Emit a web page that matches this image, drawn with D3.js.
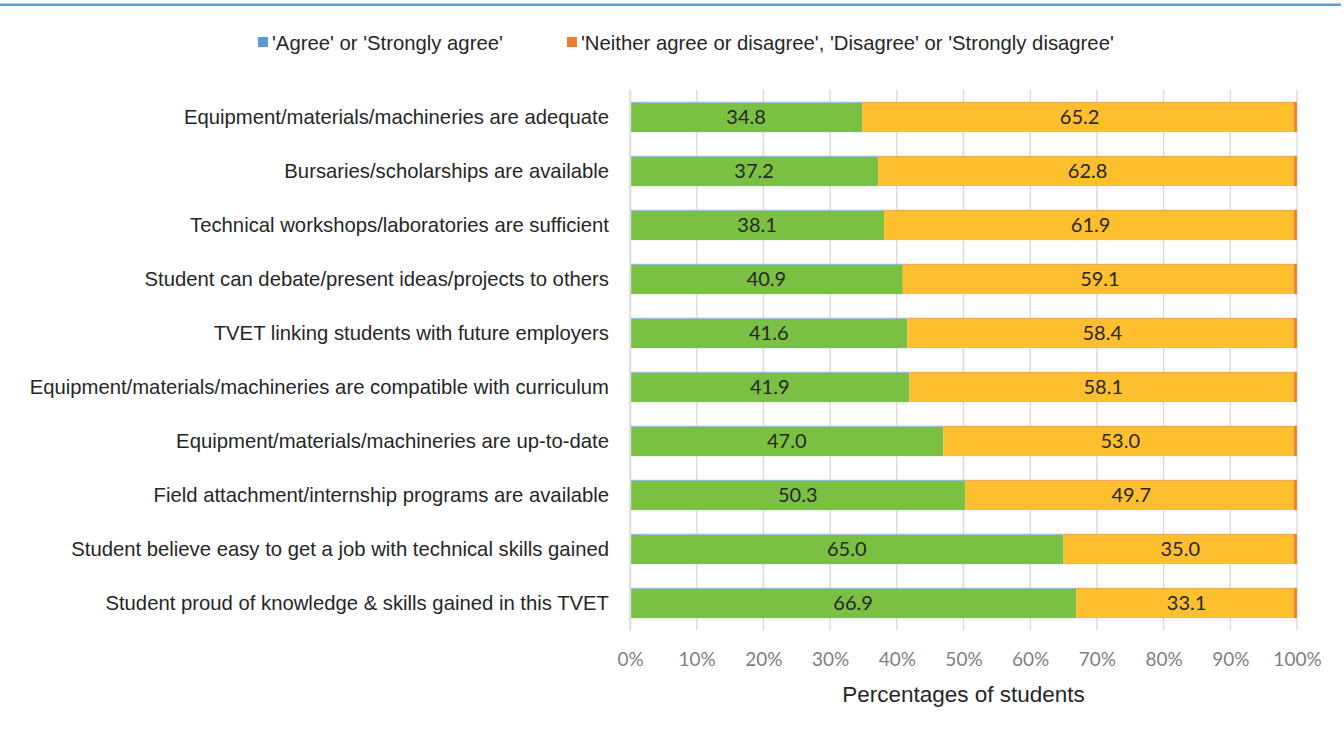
<!DOCTYPE html>
<html>
<head>
<meta charset="utf-8">
<script src="https://cdn.jsdelivr.net/npm/d3@7"></script>
<style>
  html, body { margin: 0; padding: 0; background: #fff; }
  svg { display: block; }
</style>
</head>
<body>
<svg id="chart" width="1344" height="735"></svg>
<script>
// Survey statements, top to bottom
const categories = [
  "Equipment/materials/machineries are adequate",
  "Bursaries/scholarships are available",
  "Technical workshops/laboratories are sufficient",
  "Student can debate/present ideas/projects to others",
  "TVET linking students with future employers",
  "Equipment/materials/machineries are compatible with curriculum",
  "Equipment/materials/machineries are up-to-date",
  "Field attachment/internship programs are available",
  "Student believe easy to get a job with technical skills gained",
  "Student proud of knowledge & skills gained in this TVET"
];
// Share of students (%) in each response group
const agreeValues = [34.8, 37.2, 38.1, 40.9, 41.6, 41.9, 47.0, 50.3, 65.0, 66.9];
const otherValues = [65.2, 62.8, 61.9, 59.1, 58.4, 58.1, 53.0, 49.7, 35.0, 33.1];
const seriesNames = ["'Agree' or 'Strongly agree'", "'Neither agree or disagree', 'Disagree' or 'Strongly disagree'"];
const tickValues = [0, 10, 20, 30, 40, 50, 60, 70, 80, 90, 100];

const svg = d3.select("#chart");
const plotLeft = 630, plotRight = 1297, plotTop = 90, plotBottom = 630;
const textFont = "'Liberation Sans', Arial, sans-serif";
const numFont = "Lato, 'Open Sans', sans-serif";

const x = d3.scaleLinear().domain([0, 100]).range([plotLeft, plotRight]);
const y = d3.scaleBand().domain(categories).range([plotTop, plotBottom]).paddingInner(0.44).paddingOuter(0.22);

// Title rule across the top
svg.append("rect").attr("x", 0).attr("y", 3.5).attr("width", 1341).attr("height", 2.5).attr("fill", "#5b9bd5");

// Vertical gridlines
svg.append("g").selectAll("line").data(tickValues).join("line")
  .attr("x1", d => x(d)).attr("x2", d => x(d))
  .attr("y1", plotTop).attr("y2", plotBottom)
  .attr("stroke", "#dcdcdc").attr("stroke-width", 1.5);

const rows = categories.map((c, i) => ({ c, a: agreeValues[i], o: otherValues[i] }));

const g = svg.append("g");
// Agree segment
g.selectAll("rect.agree").data(rows).join("rect").attr("class", "agree")
  .attr("x", x(0)).attr("y", d => y(d.c))
  .attr("width", d => x(d.a) - x(0)).attr("height", y.bandwidth())
  .attr("fill", "#7ac143");
g.selectAll("line.agreeEdge").data(rows).join("line").attr("class", "agreeEdge")
  .attr("x1", x(0)).attr("x2", d => x(d.a))
  .attr("y1", d => y(d.c) + 0.5).attr("y2", d => y(d.c) + 0.5)
  .attr("stroke", "#9cc3e4").attr("stroke-width", 1);
// Remaining segment
g.selectAll("rect.other").data(rows).join("rect").attr("class", "other")
  .attr("x", d => x(d.a)).attr("y", d => y(d.c))
  .attr("width", d => x(d.a + d.o) - x(d.a)).attr("height", y.bandwidth())
  .attr("fill", "#fdbf2d");
g.selectAll("line.otherEdge").data(rows).join("line").attr("class", "otherEdge")
  .attr("x1", d => x(d.a)).attr("x2", d => x(d.a + d.o))
  .attr("y1", d => y(d.c) + 0.5).attr("y2", d => y(d.c) + 0.5)
  .attr("stroke", "#f4a460").attr("stroke-width", 1);
g.selectAll("line.otherEnd").data(rows).join("line").attr("class", "otherEnd")
  .attr("x1", d => x(d.a + d.o) - 1.5).attr("x2", d => x(d.a + d.o) - 1.5)
  .attr("y1", d => y(d.c)).attr("y2", d => y(d.c) + y.bandwidth())
  .attr("stroke", "#ed7d31").attr("stroke-width", 2.5);

// Value labels
g.selectAll("text.va").data(rows).join("text")
  .attr("x", d => x(d.a / 2)).attr("y", d => y(d.c) + y.bandwidth() / 2 + 7)
  .attr("text-anchor", "middle").attr("font-family", numFont).attr("font-size", 20)
  .attr("fill", "#262626").text(d => d.a.toFixed(1));
g.selectAll("text.vo").data(rows).join("text")
  .attr("x", d => x(d.a + d.o / 2)).attr("y", d => y(d.c) + y.bandwidth() / 2 + 7)
  .attr("text-anchor", "middle").attr("font-family", numFont).attr("font-size", 20)
  .attr("fill", "#262626").text(d => d.o.toFixed(1));

// Category axis
const yAxis = svg.append("g").attr("transform", `translate(${plotLeft},0)`)
  .call(d3.axisLeft(y).tickSize(0).tickPadding(21));
yAxis.select(".domain").attr("stroke", "#dcdcdc").attr("stroke-width", 1.5);
yAxis.selectAll("text").attr("font-family", textFont)
  .attr("font-size", 20.3).attr("fill", "#262626").attr("dy", "0.35em");

// Percentage axis
const xAxis = svg.append("g").attr("transform", `translate(0,${plotBottom})`)
  .call(d3.axisBottom(x).tickValues(tickValues).tickFormat(d => d + "%").tickSize(0).tickPadding(23));
xAxis.select(".domain").remove();
xAxis.selectAll("text").attr("font-family", numFont).attr("font-size", 19).attr("fill", "#7f7f7f");

svg.append("text").attr("x", x(50)).attr("y", 702).attr("text-anchor", "middle")
  .attr("font-family", textFont).attr("font-size", 22.5)
  .attr("fill", "#262626").text("Percentages of students");

// Legend
const legend = svg.append("g");
const legendColors = ["#5b9bd5", "#ed7d31"];
const legendX = [258, 567];
seriesNames.forEach((n, i) => {
  legend.append("rect").attr("x", legendX[i]).attr("y", 37).attr("width", 10).attr("height", 10).attr("fill", legendColors[i]);
  legend.append("text").attr("x", legendX[i] + 14).attr("y", 49.5)
    .attr("font-family", textFont).attr("font-size", 20.3)
    .attr("fill", "#262626").text(n);
});
</script>
</body>
</html>
